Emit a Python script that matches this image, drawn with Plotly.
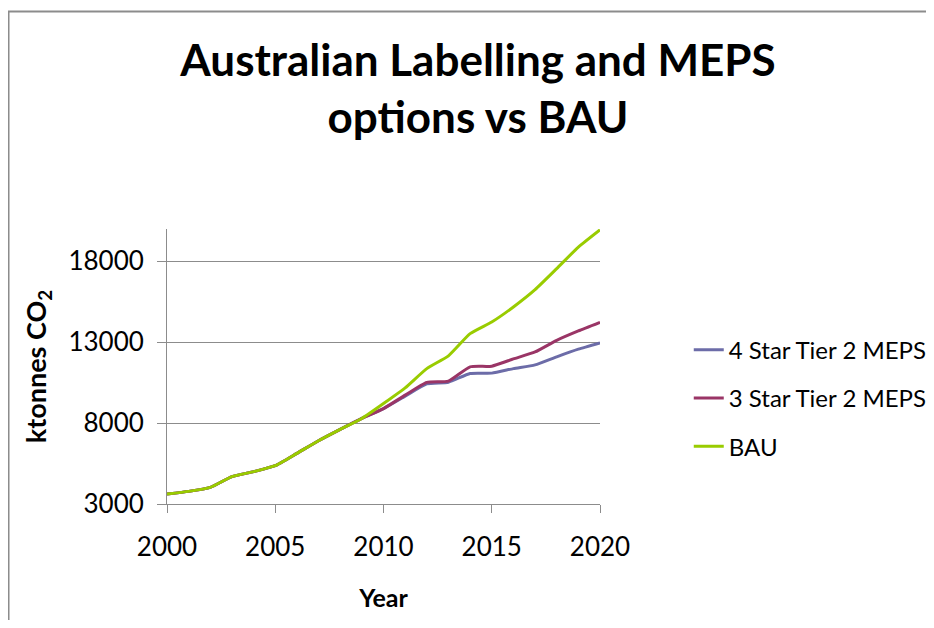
import plotly.graph_objects as go

years = list(range(2000, 2021))
star4 = [3620, 3780, 4030, 4690, 5000, 5370, 6130, 6910, 7610, 8290,
         8900, 9670, 10430, 10530, 11070, 11090, 11370, 11600, 12100, 12570, 12960]
star3 = [3620, 3780, 4030, 4690, 5000, 5370, 6130, 6910, 7610, 8290,
         8900, 9730, 10520, 10600, 11480, 11520, 11970, 12400, 13120, 13700, 14230]
bau = [3620, 3780, 4030, 4690, 5000, 5370, 6130, 6910, 7610, 8290,
       9210, 10180, 11370, 12160, 13530, 14250, 15180, 16250, 17550, 18880, 19950]

names = ["4 Star Tier 2 MEPS", "3 Star Tier 2 MEPS", "BAU"]
colors = ["#6C6CA8", "#9A3566", "#99CC00"]
series = [star4, star3, bau]

x_ticks = [2000, 2005, 2010, 2015, 2020]
y_ticks = [3000, 8000, 13000, 18000]

FONT = "Lato, 'Open Sans', sans-serif"

fig = go.Figure()
for i, (n, c, s) in enumerate(zip(names, colors, series)):
    fig.add_trace(go.Scatter(
        x=years, y=s, name=n, mode="lines", legendgroup=str(i),
        line=dict(color=c, width=3, shape="spline", smoothing=0.5),
    ))

fig.update_layout(
    width=918, height=612,
    margin=dict(l=159, r=326, t=221, b=116, autoexpand=False),
    paper_bgcolor="white", plot_bgcolor="white",
    font=dict(family=FONT, color="black"),
    title=dict(
        text="<b>Australian Labelling and MEPS<br>options vs BAU</b>",
        x=0.512, xanchor="center", y=0.889, yanchor="top",
        font=dict(size=44, family=FONT, color="black"),
    ),
    legend=dict(
        x=1.205, xanchor="left", y=0.385, yanchor="middle",
        font=dict(size=24, family=FONT, color="black"),
        tracegroupgap=14, traceorder="grouped",
        bgcolor="rgba(0,0,0,0)",
    ),
    showlegend=True,
)

fig.update_xaxes(
    range=[2000, 2020], tickvals=x_ticks, ticktext=[str(v) for v in x_ticks],
    showline=True, linecolor="#8c8c8c", linewidth=1,
    ticks="outside", ticklen=8, tickcolor="#8c8c8c",
    showgrid=False, zeroline=False,
    tickfont=dict(size=26, family=FONT, color="black"),
    ticklabelstandoff=12,
    title=dict(text="<b>Year</b>", font=dict(size=25, family=FONT, color="black"), standoff=28),
)
fig.update_yaxes(
    range=[3000, 20000], tickvals=y_ticks, ticktext=[str(v) for v in y_ticks],
    showline=True, linecolor="#8c8c8c", linewidth=1,
    ticks="outside", ticklen=9, tickcolor="#8c8c8c",
    showgrid=True, gridcolor="#8c8c8c", gridwidth=1, zeroline=False,
    tickfont=dict(size=26, family=FONT, color="black"),
    ticklabelstandoff=8,
    title=dict(text="<b>ktonnes CO<sub>2</sub></b>", font=dict(size=27, family=FONT, color="black"), standoff=13),
)

fig.add_shape(
    type="rect", xref="paper", yref="paper",
    x0=-0.366, y0=-0.6, x1=1.9, y1=1.791,
    line=dict(color="#8c8c8c", width=2), fillcolor="rgba(0,0,0,0)", layer="below",
)

fig.write_html("out.html")
